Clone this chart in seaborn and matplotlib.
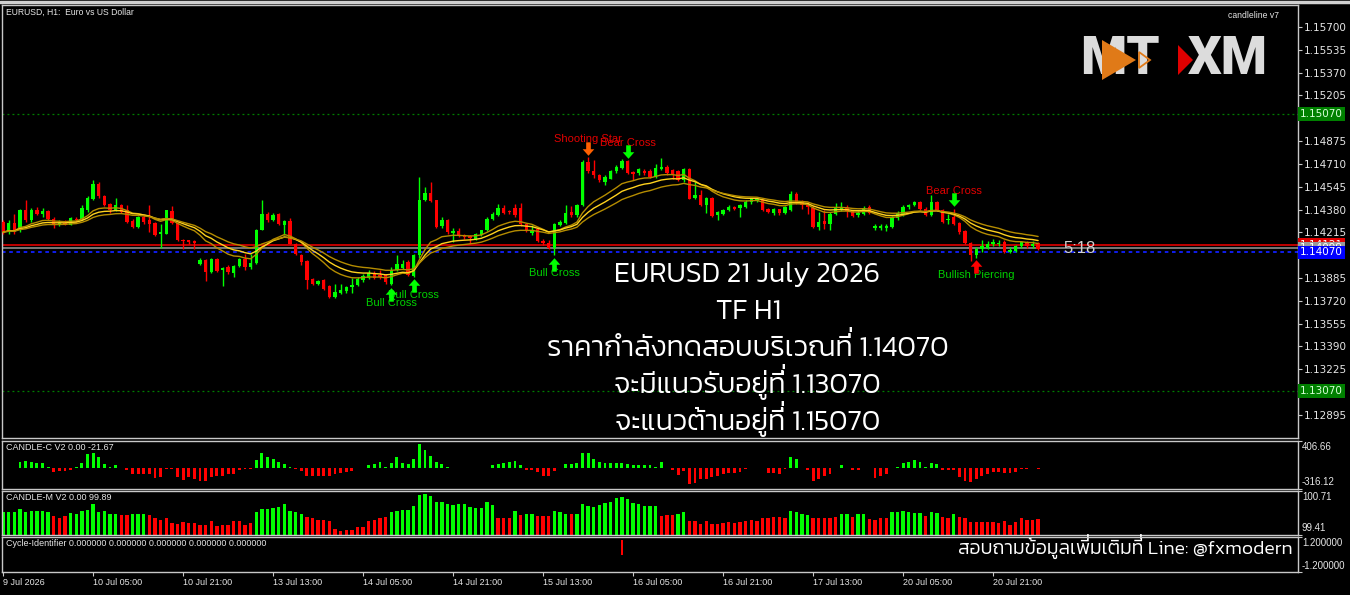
import numpy as np
import pandas as pd
import matplotlib
matplotlib.use("Agg")
import matplotlib.pyplot as plt
import matplotlib.transforms as mtransforms
from matplotlib.patches import Polygon
from matplotlib.path import Path
from matplotlib.font_manager import FontProperties, findfont, get_font
from matplotlib.textpath import TextPath, TextToPath
import seaborn as sns

# EURUSD H1 candles, 9 Jul - 21 Jul 2026
opens = [
    1.14289, 1.14217, 1.14285, 1.14229, 1.14379, 1.14306, 1.14379, 1.14350, 1.14369, 1.14314,
    1.14265, 1.14285, 1.14270, 1.14314, 1.14314, 1.14379, 1.14458, 1.14567, 1.14477, 1.14422,
    1.14379, 1.14415, 1.14374, 1.14297, 1.14253, 1.14326, 1.14302, 1.14282, 1.14200, 1.14205,
    1.14369, 1.14282, 1.14162, 1.14157, 1.14150, 1.13988, 1.14017, 1.13928, 1.14024, 1.13940,
    1.13964, 1.13921, 1.13971, 1.14024, 1.13964, 1.13993, 1.14234, 1.14350, 1.14302, 1.14350,
    1.14265, 1.14297, 1.14133, 1.14048, 1.14008, 1.13880, 1.13844, 1.13873, 1.13824, 1.13747,
    1.13776, 1.13791, 1.13820, 1.13832, 1.13873, 1.13887, 1.13921, 1.13904, 1.13904, 1.13844,
    1.13940, 1.13959, 1.14000, 1.13897, 1.14048, 1.14451, 1.14499, 1.14446, 1.14258, 1.14306,
    1.14210, 1.14222, 1.14193, 1.14186, 1.14169, 1.14193, 1.14229, 1.14314, 1.14338, 1.14393,
    1.14369, 1.14393, 1.14393, 1.14273, 1.14212, 1.14241, 1.14150, 1.14140, 1.14101, 1.14270,
    1.14285, 1.14362, 1.14338, 1.14410, 1.14723, 1.14656, 1.14632, 1.14579, 1.14603, 1.14656,
    1.14680, 1.14728, 1.14651, 1.14646, 1.14656, 1.14656, 1.14615, 1.14675, 1.14687, 1.14663,
    1.14656, 1.14591, 1.14675, 1.14463, 1.14482, 1.14415, 1.14463, 1.14338, 1.14350, 1.14374,
    1.14398, 1.14391, 1.14398, 1.14434, 1.14444, 1.14458, 1.14381, 1.14357, 1.14381, 1.14357,
    1.14379, 1.14490, 1.14434, 1.14417, 1.14393, 1.14253, 1.14294, 1.14277, 1.14350, 1.14379,
    1.14393, 1.14374, 1.14338, 1.14350, 1.14398, 1.14249, 1.14249, 1.14249, 1.14253, 1.14321,
    1.14345, 1.14398, 1.14410, 1.14434, 1.14386, 1.14338, 1.14434, 1.14379, 1.14302, 1.14326,
    1.14282, 1.14224, 1.14138, 1.14048, 1.14097, 1.14104, 1.14128, 1.14128, 1.14145, 1.14073,
    1.14080, 1.14114, 1.14145, 1.14114, 1.14138,
]
highs = [
    1.14302, 1.14302, 1.14350, 1.14386, 1.14451, 1.14393, 1.14398, 1.14393, 1.14374, 1.14326,
    1.14302, 1.14302, 1.14326, 1.14326, 1.14410, 1.14475, 1.14596, 1.14579, 1.14482, 1.14427,
    1.14465, 1.14422, 1.14410, 1.14314, 1.14333, 1.14338, 1.14410, 1.14289, 1.14277, 1.14379,
    1.14403, 1.14289, 1.14169, 1.14162, 1.14162, 1.14032, 1.14024, 1.14032, 1.14032, 1.13964,
    1.13976, 1.13976, 1.14032, 1.14060, 1.14060, 1.14241, 1.14446, 1.14362, 1.14355, 1.14355,
    1.14302, 1.14318, 1.14138, 1.14056, 1.14012, 1.13887, 1.13873, 1.13880, 1.13832, 1.13844,
    1.13844, 1.13824, 1.13887, 1.13892, 1.13916, 1.13945, 1.13935, 1.13940, 1.13916, 1.13964,
    1.14048, 1.14017, 1.14012, 1.14060, 1.14615, 1.14543, 1.14579, 1.14451, 1.14326, 1.14314,
    1.14249, 1.14249, 1.14205, 1.14193, 1.14210, 1.14234, 1.14326, 1.14362, 1.14417, 1.14410,
    1.14379, 1.14422, 1.14427, 1.14282, 1.14265, 1.14246, 1.14169, 1.14157, 1.14285, 1.14301,
    1.14410, 1.14405, 1.14422, 1.14735, 1.14759, 1.14735, 1.14639, 1.14632, 1.14668, 1.14699,
    1.14743, 1.14735, 1.14656, 1.14680, 1.14675, 1.14670, 1.14711, 1.14752, 1.14704, 1.14670,
    1.14663, 1.14680, 1.14680, 1.14579, 1.14518, 1.14470, 1.14470, 1.14367, 1.14381, 1.14410,
    1.14405, 1.14422, 1.14446, 1.14463, 1.14468, 1.14463, 1.14391, 1.14391, 1.14386, 1.14405,
    1.14514, 1.14506, 1.14451, 1.14434, 1.14403, 1.14362, 1.14379, 1.14362, 1.14427, 1.14434,
    1.14410, 1.14379, 1.14369, 1.14403, 1.14415, 1.14277, 1.14277, 1.14273, 1.14330, 1.14369,
    1.14410, 1.14417, 1.14441, 1.14441, 1.14398, 1.14482, 1.14441, 1.14386, 1.14350, 1.14386,
    1.14289, 1.14234, 1.14145, 1.14109, 1.14157, 1.14152, 1.14169, 1.14162, 1.14157, 1.14109,
    1.14121, 1.14152, 1.14152, 1.14152, 1.14145,
]
lows = [
    1.14205, 1.14205, 1.14205, 1.14217, 1.14289, 1.14289, 1.14338, 1.14326, 1.14302, 1.14249,
    1.14258, 1.14265, 1.14265, 1.14289, 1.14306, 1.14362, 1.14451, 1.14465, 1.14403, 1.14355,
    1.14369, 1.14355, 1.14282, 1.14249, 1.14249, 1.14277, 1.14217, 1.14186, 1.14104, 1.14200,
    1.14273, 1.14152, 1.14097, 1.14128, 1.14097, 1.13979, 1.13863, 1.13921, 1.13928, 1.13824,
    1.13916, 1.13892, 1.13964, 1.13940, 1.13952, 1.13988, 1.14229, 1.14289, 1.14297, 1.14265,
    1.14193, 1.14128, 1.14048, 1.13976, 1.13807, 1.13832, 1.13832, 1.13800, 1.13742, 1.13740,
    1.13767, 1.13776, 1.13776, 1.13824, 1.13856, 1.13880, 1.13880, 1.13880, 1.13844, 1.13832,
    1.13935, 1.13952, 1.13897, 1.13892, 1.14032, 1.14441, 1.14434, 1.14249, 1.14249, 1.14205,
    1.14145, 1.14181, 1.14169, 1.14128, 1.14162, 1.14186, 1.14224, 1.14302, 1.14330, 1.14345,
    1.14350, 1.14326, 1.14258, 1.14217, 1.14193, 1.14145, 1.14126, 1.14092, 1.14048, 1.14261,
    1.14277, 1.14326, 1.14326, 1.14405, 1.14646, 1.14608, 1.14579, 1.14555, 1.14598, 1.14646,
    1.14670, 1.14639, 1.14591, 1.14627, 1.14632, 1.14608, 1.14608, 1.14663, 1.14632, 1.14598,
    1.14583, 1.14579, 1.14453, 1.14453, 1.14405, 1.14357, 1.14326, 1.14301, 1.14342, 1.14367,
    1.14374, 1.14326, 1.14391, 1.14422, 1.14434, 1.14367, 1.14357, 1.14342, 1.14338, 1.14350,
    1.14369, 1.14422, 1.14386, 1.14350, 1.14249, 1.14234, 1.14241, 1.14234, 1.14338, 1.14369,
    1.14326, 1.14326, 1.14326, 1.14338, 1.14345, 1.14234, 1.14229, 1.14224, 1.14249, 1.14302,
    1.14330, 1.14386, 1.14403, 1.14379, 1.14330, 1.14330, 1.14369, 1.14282, 1.14273, 1.14265,
    1.14205, 1.14133, 1.14008, 1.14032, 1.14073, 1.14097, 1.14114, 1.14114, 1.14065, 1.14065,
    1.14073, 1.14104, 1.14104, 1.14104, 1.14085,
]
closes = [
    1.14217, 1.14285, 1.14222, 1.14379, 1.14302, 1.14379, 1.14350, 1.14369, 1.14314, 1.14265,
    1.14285, 1.14277, 1.14318, 1.14302, 1.14393, 1.14465, 1.14567, 1.14475, 1.14415, 1.14379,
    1.14410, 1.14362, 1.14289, 1.14253, 1.14326, 1.14289, 1.14273, 1.14193, 1.14217, 1.14374,
    1.14282, 1.14157, 1.14150, 1.14145, 1.14138, 1.14017, 1.13928, 1.14024, 1.13935, 1.13959,
    1.13928, 1.13971, 1.14024, 1.13964, 1.13993, 1.14234, 1.14350, 1.14302, 1.14343, 1.14273,
    1.14297, 1.14133, 1.14056, 1.14000, 1.13873, 1.13844, 1.13861, 1.13807, 1.13747, 1.13783,
    1.13800, 1.13820, 1.13832, 1.13880, 1.13897, 1.13921, 1.13887, 1.13892, 1.13856, 1.13940,
    1.13983, 1.13983, 1.13904, 1.14048, 1.14451, 1.14499, 1.14441, 1.14253, 1.14306, 1.14217,
    1.14222, 1.14188, 1.14181, 1.14176, 1.14200, 1.14229, 1.14314, 1.14350, 1.14393, 1.14355,
    1.14359, 1.14338, 1.14273, 1.14224, 1.14229, 1.14150, 1.14140, 1.14101, 1.14277, 1.14289,
    1.14357, 1.14338, 1.14410, 1.14723, 1.14656, 1.14627, 1.14591, 1.14615, 1.14656, 1.14687,
    1.14728, 1.14646, 1.14639, 1.14670, 1.14646, 1.14615, 1.14680, 1.14687, 1.14646, 1.14632,
    1.14591, 1.14675, 1.14458, 1.14487, 1.14410, 1.14463, 1.14333, 1.14362, 1.14374, 1.14398,
    1.14386, 1.14410, 1.14434, 1.14453, 1.14458, 1.14374, 1.14362, 1.14386, 1.14357, 1.14398,
    1.14490, 1.14434, 1.14410, 1.14398, 1.14253, 1.14289, 1.14277, 1.14350, 1.14393, 1.14393,
    1.14369, 1.14330, 1.14355, 1.14393, 1.14355, 1.14258, 1.14258, 1.14258, 1.14326, 1.14355,
    1.14398, 1.14410, 1.14434, 1.14386, 1.14338, 1.14434, 1.14379, 1.14289, 1.14314, 1.14277,
    1.14217, 1.14138, 1.14048, 1.14097, 1.14114, 1.14128, 1.14145, 1.14138, 1.14073, 1.14085,
    1.14114, 1.14145, 1.14114, 1.14133, 1.14097,
]

# CANDLE-C V2 histogram
candle_c = [
    -3, -3, -3, 92, 107, 92, 82, 82, 15, -61,
    -46, -46, -26, 10, 82, 210, 220, 169, 67, 10,
    41, 5, -36, -87, -87, -87, -97, -148, -138, -20,
    -10, -138, -179, -138, -164, -200, -189, -138, -123, -113,
    -87, -87, -36, -15, -15, 128, 220, 169, 133, 92,
    67, 10, -10, -51, -113, -113, -113, -113, -113, -97,
    -77, -61, -46, 5, 5, 41, 67, 92, 10, 82,
    169, 82, 67, 143, 358, 271, 179, 92, 67, 10,
    5, 5, 5, -5, -5, -5, 5, 41, 67, 82,
    92, 107, 41, -26, -36, -61, -113, -113, -51, 5,
    67, 67, 82, 230, 220, 143, 92, 82, 82, 82,
    82, 67, 41, 41, 41, 41, 10, 92, 5, -26,
    -102, -46, -240, -230, -164, -164, -138, -113, -87, -72,
    -72, -61, -10, 5, 5, 5, -72, -72, -87, -10,
    169, 143, 5, -36, -200, -164, -113, -87, 5, 41,
    5, -26, -26, 5, 5, -148, -113, -87, 5, 10,
    77, 92, 118, 92, 10, 77, 67, -36, -36, -36,
    -138, -189, -215, -164, -113, -87, -61, -61, -72, -72,
    -61, -10, -10, 5, -21.67,
]

# CANDLE-M V2 histogram
candle_m = [
    100.10, 100.10, 100.08, 100.17, 100.08, 100.13, 100.12, 100.12, 100.08, 99.97,
    99.92, 99.96, 100.05, 100.04, 100.13, 100.16, 100.32, 100.10, 100.11, 100.04,
    100.04, 99.99, 99.99, 100.04, 100.04, 100.02, 99.99, 99.90, 99.85, 99.92,
    99.76, 99.74, 99.79, 99.76, 99.76, 99.71, 99.71, 99.81, 99.68, 99.71,
    99.71, 99.81, 99.83, 99.71, 99.76, 100.08, 100.17, 100.17, 100.20, 100.23,
    100.34, 100.11, 100.10, 100.04, 99.95, 99.90, 99.86, 99.86, 99.83, 99.60,
    99.52, 99.57, 99.57, 99.65, 99.65, 99.83, 99.86, 99.92, 99.94, 100.10,
    100.13, 100.15, 100.16, 100.26, 100.60, 100.63, 100.55, 100.39, 100.39, 100.32,
    100.29, 100.32, 100.32, 100.23, 100.20, 100.21, 100.39, 100.29, 99.92, 99.90,
    99.92, 100.13, 99.99, 100.02, 100.02, 99.97, 99.97, 99.97, 100.11, 100.08,
    100.04, 100.02, 100.02, 100.34, 100.26, 100.23, 100.29, 100.36, 100.39, 100.50,
    100.53, 100.48, 100.36, 100.34, 100.26, 100.26, 100.26, 99.97, 99.99, 99.99,
    100.02, 100.08, 99.83, 99.81, 99.73, 99.83, 99.73, 99.73, 99.75, 99.79,
    99.76, 99.79, 99.81, 99.86, 99.81, 99.90, 99.92, 99.94, 99.94, 99.92,
    100.13, 100.10, 100.02, 100.00, 99.90, 99.90, 99.92, 99.92, 99.94, 100.02,
    100.02, 99.95, 100.02, 100.02, 99.88, 99.86, 99.90, 99.90, 100.08, 100.08,
    100.11, 100.08, 100.05, 100.05, 99.97, 100.10, 100.05, 99.94, 99.90, 100.02,
    99.94, 99.90, 99.79, 99.79, 99.79, 99.79, 99.79, 99.76, 99.81, 99.71,
    99.79, 99.90, 99.86, 99.86, 99.89,
]
# colour state of each CANDLE-M bar (g = up, r = down)
candle_m_state = (
    "gggggggggr" "rrgggggggg" "grrgggrrrr" "rrrrrrrrrr" "rrrrrggggg"
    "ggggrrrrrr" "rrrrrrrrrg" "gggggggggg" "ggggggggrr" "rgrggrrrgg"
    "grgggggggg" "gggggggrrr" "ggrrrrrrrr" "rrrrrrrrrr" "ggggrrrrrg"
    "grggrrrrgg" "ggggrggrrg" "rrrrrrrrrr" "rrrrr"
)

# Cycle-Identifier: a single spike
cycle_bars = [110]
cycle_values = [1.0]

# chart levels
resistance = 1.15070
support = 1.13070
test_level = 1.14070
ask_price = 1.14121
bid_price = 1.14099

price_ticks = [1.15700, 1.15535, 1.15370, 1.15205, 1.14875, 1.14710, 1.14545,
               1.14380, 1.14215, 1.13885, 1.13720, 1.13555, 1.13390, 1.13225,
               1.12895]
hidden_ticks = [1.15040, 1.14050, 1.13060]   # covered by the level boxes
time_labels = ["9 Jul 2026", "10 Jul 05:00", "10 Jul 21:00", "13 Jul 13:00", "14 Jul 05:00",
               "14 Jul 21:00", "15 Jul 13:00", "16 Jul 05:00", "16 Jul 21:00", "17 Jul 13:00",
               "20 Jul 05:00", "20 Jul 21:00"]
bars_per_label = 16

# pattern / cross signals
signal_text = ["Shooting Star", "Bear Cross", "Bull Cross", "Bull Cross", "Bull Cross",
               "Bear Cross", "Bullish Piercing"]
signal_bar = [104, 111, 69, 73, 98, 169, 173]
signal_side = ["bear", "bear", "bull", "bull", "bull", "bear", "bull"]
signal_arrow = ["#ff6000", "#00ff00", "#00ff00", "#00ff00", "#00ff00", "#00ff00", "#ff0000"]
signal_color = ["#e00000", "#e00000", "#00d000", "#00d000", "#00d000", "#e00000", "#00d000"]

overlay = ["EURUSD 21 July 2026", "TF H1", "ราคากำลังทดสอบบริเวณที่ 1.14070",
           "จะมีแนวรับอยู่ที่ 1.13070", "จะแนวต้านอยู่ที่ 1.15070"]
contact = "สอบถามข้อมูลเพิ่มเติมที่ Line: @fxmodern"

ema_spans = [12, 17, 24]

n = len(closes)
assert len(opens) == len(highs) == len(lows) == n == len(candle_c) == len(candle_m)
assert len(candle_m_state) == n

df = pd.DataFrame({"bar": np.arange(n), "open": opens, "high": highs,
                   "low": lows, "close": closes})
df["up"] = df["close"] >= df["open"]
for s in ema_spans:
    df[f"ema{s}"] = df["close"].ewm(span=s, adjust=False).mean()

# ---------------------------------------------------------------- figure
sns.set_style("dark", {"axes.facecolor": "black", "figure.facecolor": "black"})
plt.rcParams["font.family"] = ["DejaVu Sans"]

W, H = 1350, 595
fig = plt.figure(figsize=(13.5, 5.95), dpi=100)
fig.patch.set_facecolor("black")


def box(x0, y0, x1, y1):
    return [x0 / W, 1 - y1 / H, (x1 - x0) / W, (y1 - y0) / H]


ax = fig.add_axes(box(2, 5, 1298, 438))
ax_c = fig.add_axes(box(2, 441, 1298, 489), sharex=ax)
ax_m = fig.add_axes(box(2, 491, 1298, 535), sharex=ax)
ax_y = fig.add_axes(box(2, 537, 1298, 572), sharex=ax)

GREEN, RED = "#00ff00", "#ff0000"
FRAME = "#c8c8c8"
TXT = "#e6e6e6"
small = dict(family="Liberation Sans", color=TXT)

for a in (ax, ax_c, ax_m, ax_y):
    a.set_facecolor("black")
    a.grid(False)
    for sp in a.spines.values():
        sp.set_color(FRAME)
        sp.set_linewidth(1.0)
    a.yaxis.tick_right()
    a.tick_params(axis="y", which="both", colors=FRAME, labelcolor=TXT, length=3,
                  width=0.8, labelsize=7.5, pad=1)
    a.tick_params(axis="x", bottom=False, labelbottom=False)

# candles
col = np.where(df["up"], GREEN, RED)
ax.vlines(df["bar"], df["low"], df["high"], colors=col, linewidth=1.0, zorder=3)
body_lo = np.minimum(df["open"], df["close"])
body_h = np.maximum((df["close"] - df["open"]).abs(), 0.00004)
ax.bar(df["bar"], body_h, bottom=body_lo, width=0.62, color=col, linewidth=0, zorder=4)

# moving averages
ma_cols = ["#b48c00", "#ffd21e", "#b48c00"]
for s, c in zip(ema_spans, ma_cols):
    sns.lineplot(data=df, x="bar", y=f"ema{s}", ax=ax, color=c, linewidth=1.0, zorder=5)

# horizontal levels
ax.axhline(resistance, color="#008000", linestyle=(0, (1.5, 2.5)), linewidth=0.9)
ax.axhline(support, color="#008000", linestyle=(0, (1.5, 2.5)), linewidth=0.9)
ax.axhline(ask_price, color="#e00000", linewidth=1.2, zorder=2)
ax.axhline(bid_price, color="#8c8c8c", linewidth=1.2, zorder=2)
ax.axhline(test_level, color="#1020ff", linestyle=(0, (2, 2)), linewidth=1.3, zorder=2)

ax.set_ylim(1.12728, 1.15859)
ax.set_yticks(price_ticks)
ax.set_yticklabels([f"{p:.5f}" for p in price_ticks], family="DejaVu Sans")
ax.set_yticks(hidden_ticks, minor=True)
ax.tick_params(axis="y", which="minor", labelright=False)

# price boxes on the right scale
tr = mtransforms.blended_transform_factory(ax.transAxes, ax.transData)
for price, fc, tc in [(resistance, "#008000", "#d8ffd8"), (support, "#008000", "#d8ffd8"),
                      (ask_price, "#e00000", "#ffffff"), (bid_price, "#9a9a9a", "#ffffff"),
                      (test_level, "#0000ff", "#ffffff")]:
    ax.text(1.0015, price, f"{price:.5f}", transform=tr, va="center", ha="left",
            fontsize=7.5, color=tc, clip_on=False, zorder=10,
            bbox=dict(boxstyle="square,pad=0.18", fc=fc, ec="none"))

# signals: MT4 style arrow glyph as a path marker
arrow_up = Path([(0, 1), (0.8, 0.1), (0.32, 0.1), (0.32, -0.85), (-0.32, -0.85),
                 (-0.32, 0.1), (-0.8, 0.1), (0, 1)], closed=True)
arrow_down = Path(arrow_up.vertices * [1, -1], closed=True)
for txt, b, side, ac, tc in zip(signal_text, signal_bar, signal_side, signal_arrow, signal_color):
    sgn = -1 if side == "bull" else 1
    y = lows[b] if side == "bull" else highs[b]
    shift = mtransforms.offset_copy(ax.transData, fig=fig, x=0, y=6.8 * sgn, units="points")
    ax.plot([b], [y], marker=arrow_up if side == "bull" else arrow_down, markersize=10.5,
            color=ac, markeredgewidth=0, linestyle="none", transform=shift, zorder=8)
    ax.annotate(txt, xy=(b, y), xytext=(0, 12.8 * sgn), textcoords="offset points",
                ha="center", va="center", fontsize=8, color=tc,
                family="Liberation Sans", zorder=7)

ax.text(0.003, 0.994, "EURUSD, H1:  Euro vs US Dollar", transform=ax.transAxes,
        va="top", ha="left", fontsize=6.2, **small)
ax.text(0.985, 0.985, "candleline v7", transform=ax.transAxes, va="top", ha="right",
        fontsize=6.2, **small)
ax.text(n + 3.5, closes[-1], "5:18", va="center", ha="left", fontsize=12,
        color="#d0d0d0", family="Liberation Sans")

# chart comment overlay (Thai).  matplotlib does no Thai shaping, so a tone mark
# that follows an upper vowel is repeated, lifted, as its own text.
UPPER_VOWELS = set("\u0e31\u0e34\u0e35\u0e36\u0e37\u0e47\u0e4d")
TONE_MARKS = set("\u0e48\u0e49\u0e4a\u0e4b\u0e4c")
thai_prop = FontProperties(family="Kanit", weight=300)
ttp = TextToPath()


def thai_text(s, x, baseline, size, ha="center"):
    prop = thai_prop.copy()
    prop.set_size(size)
    k = size * fig.dpi / 72 / 100
    ext = TextPath((0, 0), s, size=100, prop=thai_prop).get_extents()
    anchor = (ext.x0 + ext.x1) / 2 if ha == "center" else ext.x1
    x0 = x - k * anchor
    fig.text(x0 / W, 1 - baseline / H, s, ha="left", va="baseline",
             fontproperties=prop, color="white")
    font = get_font(findfont(thai_prop))
    font.set_size(100, 72)
    glyphs = ttp.get_glyphs_with_font(font, s)[0]
    lift = 0.22 * size * fig.dpi / 72
    for i, ch in enumerate(s):
        if ch in TONE_MARKS and i > 0 and s[i - 1] in UPPER_VOWELS:
            gx = x0 + k * glyphs[i][1]
            fig.text(gx / W, 1 - (baseline - lift) / H, ch, ha="left", va="baseline",
                     fontproperties=prop, color="white")


for i, line in enumerate(overlay):
    thai_text(line, 748, 282 + i * 37, 20.7)
thai_text(contact, 1290, 554, 14, ha="right")

# MT | XM logo
fig.text(1080 / W, 1 - 60 / H, "MT", ha="left", va="center", fontsize=38,
         color="#dcdcdc", family="Roboto", fontweight="black")
fig.text(1188 / W, 1 - 60 / H, "XM", ha="left", va="center", fontsize=38,
         color="#dcdcdc", family="Roboto", fontweight="black")
fig.add_artist(Polygon([(1102 / W, 1 - 40 / H), (1136 / W, 1 - 60 / H), (1102 / W, 1 - 80 / H)],
                       closed=True, fc="#e07a18", ec="none", transform=fig.transFigure,
                       zorder=6))
fig.add_artist(Polygon([(1139 / W, 1 - 52 / H), (1150 / W, 1 - 60 / H), (1139 / W, 1 - 68 / H)],
                       closed=True, fc="none", ec="#e07a18", lw=1.3, transform=fig.transFigure,
                       zorder=6))
fig.add_artist(Polygon([(1178 / W, 1 - 45 / H), (1193 / W, 1 - 60 / H), (1178 / W, 1 - 75 / H)],
                       closed=True, fc="#e00000", ec="none", transform=fig.transFigure,
                       zorder=6))

# CANDLE-C
cdf = pd.DataFrame({"bar": np.arange(n), "value": candle_c})
cdf["state"] = np.where(cdf["value"] >= 0, "up", "down")
sns.barplot(data=cdf, x="bar", y="value", hue="state", palette={"up": GREEN, "down": RED},
            native_scale=True, dodge=False, width=0.5, errorbar=None, legend=False,
            saturation=1, linewidth=0, ax=ax_c)
ax_c.set_ylim(-316.12, 406.66)
ax_c.set_yticks([-316.12, 406.66])
ax_c.tick_params(axis="y", labelright=False)
ax_c.text(1.003, 0.97, "406.66", transform=ax_c.transAxes, va="top", ha="left", fontsize=7, **small)
ax_c.text(1.003, 0.05, "-316.12", transform=ax_c.transAxes, va="bottom", ha="left", fontsize=7, **small)
ax_c.text(0.003, 0.95, f"CANDLE-C V2 0.00 {candle_c[-1]:.2f}", transform=ax_c.transAxes,
          va="top", ha="left", fontsize=6.5, **small)

# CANDLE-M
mdf = pd.DataFrame({"bar": np.arange(n), "value": candle_m,
                    "state": ["up" if s == "g" else "down" for s in candle_m_state]})
sns.barplot(data=mdf, x="bar", y="value", hue="state", palette={"up": GREEN, "down": RED},
            native_scale=True, dodge=False, width=0.6, errorbar=None, legend=False,
            saturation=1, linewidth=0, ax=ax_m)
ax_m.set_ylim(99.41, 100.71)
ax_m.set_yticks([99.41, 100.71])
ax_m.tick_params(axis="y", labelright=False)
ax_m.text(1.003, 0.97, "100.71", transform=ax_m.transAxes, va="top", ha="left", fontsize=7, **small)
ax_m.text(1.003, 0.05, "99.41", transform=ax_m.transAxes, va="bottom", ha="left", fontsize=7, **small)
ax_m.text(0.003, 0.95, f"CANDLE-M V2 0.00 {candle_m[-1]:.2f}", transform=ax_m.transAxes,
          va="top", ha="left", fontsize=6.5, **small)

# Cycle-Identifier
ax_y.bar(cycle_bars, cycle_values, width=0.45, color=RED, linewidth=0)
ax_y.set_ylim(-1.2, 1.2)
ax_y.set_yticks([-1.2, 1.2])
ax_y.tick_params(axis="y", labelright=False)
ax_y.text(1.003, 0.97, "1.200000", transform=ax_y.transAxes, va="top", ha="left", fontsize=7, **small)
ax_y.text(1.003, 0.03, "-1.200000", transform=ax_y.transAxes, va="bottom", ha="left", fontsize=7, **small)
ax_y.text(0.003, 0.95, "Cycle-Identifier 0.000000 0.000000 0.000000 0.000000 0.000000",
          transform=ax_y.transAxes, va="top", ha="left", fontsize=6.5, **small)

for a in (ax, ax_c, ax_m, ax_y):
    a.set_xlabel("")
    a.set_ylabel("")
ax.set_xlim(-0.2, 230.2)

# time scale
ticks = [i * bars_per_label for i in range(len(time_labels))]
ax_y.set_xticks(ticks)
ax_y.set_xticklabels(time_labels)
ax_y.tick_params(axis="x", bottom=True, labelbottom=True, colors=FRAME, labelcolor=TXT,
                 length=3, width=0.8, labelsize=6.5, pad=1.5)
for lab in ax_y.get_xticklabels():
    lab.set_horizontalalignment("left")
    lab.set_family("Liberation Sans")

# top border strip
fig.add_artist(plt.Line2D([0, 1], [1 - 1.5 / H, 1 - 1.5 / H], color="#d0d0d0",
                          linewidth=2.5, transform=fig.transFigure))

fig.savefig("out.png", dpi=100, facecolor="black")
